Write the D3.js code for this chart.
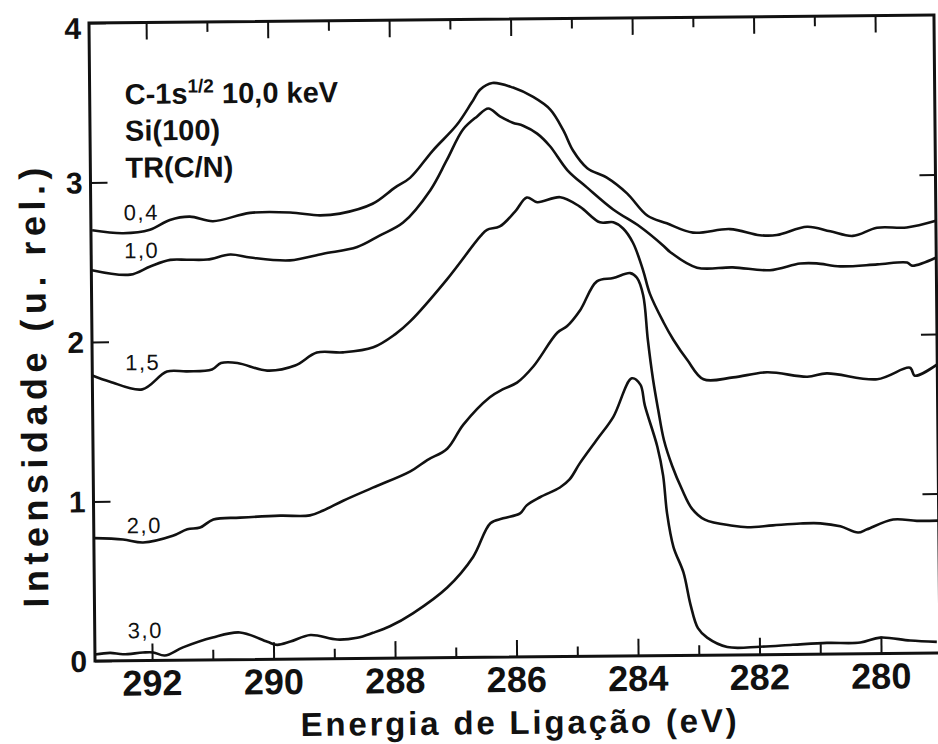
<!DOCTYPE html>
<html>
<head>
<meta charset="utf-8">
<script src="https://cdn.jsdelivr.net/npm/d3@7"></script>
<style>
    body { margin: 0; background: #fff; }
    svg { display: block; }
    text { font-family: "Liberation Sans", Arial, Helvetica, sans-serif; fill: #111; }
</style>
</head>
<body>
<div id="xps-graph-div"></div>
<script>
// energias de ligacao (eV) e intensidades lidas para cada razao TR(C/N)
var energia04 = [292.92, 292.41, 291.97, 291.64, 291.31, 290.93, 290.32, 289.66, 289.17, 288.84, 288.30, 287.93, 287.68, 287.30, 286.90, 286.65, 286.51, 286.31, 285.97, 285.64, 285.36, 285.15, 284.99, 284.76, 284.44, 284.11, 283.78, 283.46, 283.03, 282.42, 281.93, 281.65, 281.15, 280.77, 280.40, 280.00, 279.51, 279.03];
var intens04 = [2.70, 2.68, 2.70, 2.76, 2.78, 2.75, 2.80, 2.80, 2.78, 2.79, 2.85, 2.95, 3.01, 3.18, 3.34, 3.48, 3.56, 3.60, 3.57, 3.51, 3.43, 3.30, 3.17, 3.06, 3.00, 2.90, 2.76, 2.71, 2.65, 2.67, 2.63, 2.63, 2.68, 2.65, 2.62, 2.67, 2.67, 2.71];

var energia10 = [292.93, 292.30, 291.97, 291.64, 291.36, 291.03, 290.65, 290.32, 289.67, 289.12, 288.56, 288.19, 287.80, 287.35, 287.07, 286.80, 286.57, 286.38, 286.19, 285.98, 285.81, 285.58, 285.37, 285.09, 284.77, 284.34, 283.90, 283.52, 283.41, 282.97, 282.38, 281.77, 281.27, 281.00, 280.61, 280.00, 279.51, 279.43, 279.03];
var intens10 = [2.45, 2.42, 2.47, 2.51, 2.51, 2.51, 2.54, 2.52, 2.50, 2.54, 2.58, 2.65, 2.73, 2.93, 3.12, 3.31, 3.39, 3.44, 3.39, 3.35, 3.33, 3.28, 3.20, 3.05, 2.94, 2.80, 2.69, 2.57, 2.53, 2.43, 2.43, 2.41, 2.45, 2.45, 2.43, 2.44, 2.45, 2.43, 2.48];

var energia15 = [292.94, 292.65, 292.12, 291.71, 291.38, 290.97, 290.82, 290.55, 290.06, 289.60, 289.24, 288.81, 288.31, 287.95, 287.70, 287.09, 286.53, 286.42, 286.21, 285.96, 285.76, 285.59, 285.21, 284.89, 284.56, 284.34, 284.18, 284.02, 283.86, 283.75, 283.53, 283.37, 283.14, 282.88, 282.39, 281.83, 281.17, 280.85, 280.02, 279.48, 279.40, 279.03];
var intens15 = [1.79, 1.75, 1.70, 1.81, 1.81, 1.82, 1.86, 1.86, 1.81, 1.84, 1.92, 1.92, 1.95, 2.03, 2.11, 2.37, 2.64, 2.68, 2.70, 2.79, 2.88, 2.85, 2.88, 2.82, 2.72, 2.72, 2.68, 2.59, 2.42, 2.27, 2.09, 1.98, 1.85, 1.73, 1.74, 1.77, 1.74, 1.76, 1.72, 1.79, 1.74, 1.81];

var energia20 = [292.94, 292.46, 292.13, 291.64, 291.40, 291.19, 290.97, 290.53, 289.87, 289.38, 289.16, 288.83, 288.34, 287.72, 287.44, 287.11, 286.84, 286.40, 286.18, 285.95, 285.68, 285.28, 285.12, 284.90, 284.62, 284.35, 284.07, 283.96, 283.86, 283.79, 283.71, 283.63, 283.54, 283.41, 283.25, 283.09, 282.88, 282.42, 282.18, 281.76, 281.31, 280.98, 280.65, 280.36, 280.21, 279.78, 279.39, 279.03];
var intens20 = [0.77, 0.76, 0.74, 0.78, 0.82, 0.83, 0.88, 0.89, 0.90, 0.90, 0.93, 0.99, 1.07, 1.17, 1.24, 1.31, 1.46, 1.63, 1.68, 1.72, 1.82, 2.03, 2.07, 2.17, 2.35, 2.37, 2.40, 2.37, 2.26, 1.98, 1.73, 1.54, 1.35, 1.19, 1.04, 0.92, 0.85, 0.81, 0.80, 0.81, 0.82, 0.82, 0.80, 0.76, 0.78, 0.84, 0.83, 0.83];

var energia30 = [292.94, 292.69, 292.48, 292.15, 291.98, 291.79, 291.49, 291.00, 290.55, 290.10, 289.94, 289.72, 289.39, 288.95, 288.62, 288.36, 288.08, 287.70, 287.13, 286.70, 286.41, 286.20, 285.92, 285.81, 285.59, 285.26, 285.10, 284.93, 284.64, 284.37, 284.06, 283.92, 283.85, 283.65, 283.56, 283.50, 283.40, 283.24, 283.13, 283.01, 282.86, 282.53, 281.99, 281.45, 280.89, 280.34, 280.01, 279.52, 279.08];
var intens30 = [0.04, 0.05, 0.04, 0.05, 0.05, 0.03, 0.08, 0.14, 0.17, 0.11, 0.09, 0.11, 0.15, 0.12, 0.13, 0.16, 0.20, 0.28, 0.44, 0.63, 0.84, 0.87, 0.90, 0.95, 1.00, 1.06, 1.11, 1.21, 1.36, 1.50, 1.74, 1.70, 1.57, 1.31, 1.13, 0.89, 0.68, 0.52, 0.32, 0.17, 0.11, 0.05, 0.05, 0.06, 0.07, 0.07, 0.10, 0.08, 0.07];

var razoes = ["0,4", "1,0", "1,5", "2,0", "3,0"];
var xTicksMaiores = [292, 290, 288, 286, 284, 282, 280];
var xTicksMenores = [291, 289, 287, 285, 283, 281];
var yTicks = [0, 1, 2, 3, 4];
var yTicksDireita = [1, 2, 3];
var anotacoes = ["Si(100)", "TR(C/N)"];

var w = 938, h = 744;
// plot frame (window.top is reserved, so prefixed names)
var fLeft = 92, fRight = 937, fTop = 19, fBottom = 657;

var svg = d3.select("#xps-graph-div")
    .append("svg")
    .attr("width", w)
    .attr("height", h);

// the scanned figure is slightly tilted
var g = svg.append("g")
    .attr("transform", "rotate(-0.54, 514, 340)");

var x = d3.scaleLinear().domain([292.94, 279.03]).range([fLeft, fRight]);
var y = d3.scaleLinear().domain([0, 4]).range([fBottom, fTop]);

var series = [
    { label: razoes[0], e: energia04, v: intens04, ly: 216.5 },
    { label: razoes[1], e: energia10, v: intens10, ly: 254.5 },
    { label: razoes[2], e: energia15, v: intens15, ly: 366.5 },
    { label: razoes[3], e: energia20, v: intens20, ly: 529.5 },
    { label: razoes[4], e: energia30, v: intens30, ly: 634.5 }
];

var line = d3.line()
    .x(function (d) { return x(d[0]); })
    .y(function (d) { return y(d[1]); })
    .curve(d3.curveCatmullRom.alpha(0.5));

g.selectAll("path.curva")
    .data(series)
    .enter()
    .append("path")
    .attr("class", "curva")
    .attr("d", function (s) {
        return line(d3.zip(s.e, s.v));
    })
    .attr("fill", "none")
    .attr("stroke", "#111")
    .attr("stroke-width", 2.6)
    .attr("stroke-linejoin", "round");

// inward ticks on all four sides
var axB = d3.axisBottom(x).tickValues(xTicksMaiores).tickSize(-17).tickFormat("");
var axBm = d3.axisBottom(x).tickValues(xTicksMenores).tickSize(-10).tickFormat("");
var axT = d3.axisTop(x).tickValues(xTicksMaiores).tickSize(-17).tickFormat("");
var axTm = d3.axisTop(x).tickValues(xTicksMenores).tickSize(-10).tickFormat("");
var axL = d3.axisLeft(y).tickValues(yTicks).tickSize(-17).tickFormat("");
var axR = d3.axisRight(y).tickValues(yTicksDireita).tickSize(-16).tickFormat("");

[[axB, "translate(0," + fBottom + ")"], [axBm, "translate(0," + fBottom + ")"],
 [axT, "translate(0," + fTop + ")"], [axTm, "translate(0," + fTop + ")"],
 [axL, "translate(" + fLeft + ",0)"], [axR, "translate(" + fRight + ",0)"]].forEach(function (a) {
    var ag = g.append("g").attr("transform", a[1]).call(a[0]);
    ag.select(".domain").remove();
    ag.selectAll("line").attr("stroke", "#111").attr("stroke-width", 2);
});

g.append("rect")
    .attr("x", fLeft)
    .attr("y", fTop)
    .attr("width", fRight - fLeft)
    .attr("height", fBottom - fTop)
    .attr("fill", "none")
    .attr("stroke", "#111")
    .attr("stroke-width", 3);

// tick labels
g.selectAll("text.ylab")
    .data(yTicks)
    .enter()
    .append("text")
    .attr("class", "ylab")
    .attr("x", 84)
    .attr("y", function (d) { return d === 4 ? y(d) + 5 : y(d); })
    .attr("dy", "0.36em")
    .attr("text-anchor", "end")
    .attr("font-size", 30)
    .attr("font-weight", "bold")
    .text(function (d) { return d; });

g.selectAll("text.xlab")
    .data(xTicksMaiores)
    .enter()
    .append("text")
    .attr("class", "xlab")
    .attr("x", function (d) { return x(d); })
    .attr("y", 692)
    .attr("text-anchor", "middle")
    .attr("font-size", 36)
    .attr("font-weight", "bold")
    .text(function (d) { return d; });

// axis titles
g.append("text")
    .attr("x", 515)
    .attr("y", 734)
    .attr("text-anchor", "middle")
    .attr("font-size", 33)
    .attr("font-weight", "bold")
    .attr("textLength", 436)
    .attr("lengthAdjust", "spacing")
    .text("Energia de Ligação (eV)");

g.append("text")
    .attr("transform", "translate(46,383) rotate(-90)")
    .attr("text-anchor", "middle")
    .attr("font-size", 36)
    .attr("font-weight", "bold")
    .attr("textLength", 440)
    .attr("lengthAdjust", "spacing")
    .text("Intensidade (u. rel.)");

// annotation block
var anot = g.append("text")
    .attr("x", 127)
    .attr("y", 100.5)
    .attr("font-size", 29)
    .attr("font-weight", "bold");
anot.append("tspan").text("C-1s");
anot.append("tspan").attr("dy", -11).attr("font-size", 19).text("1/2");
anot.append("tspan").attr("dy", 11).text(" 10,0 keV");

g.selectAll("text.anot")
    .data(anotacoes)
    .enter()
    .append("text")
    .attr("class", "anot")
    .attr("x", 127)
    .attr("y", function (d, i) { return 137 + i * 37; })
    .attr("font-size", 29)
    .attr("font-weight", "bold")
    .text(function (d) { return d; });

// curve labels
g.selectAll("text.serie")
    .data(series)
    .enter()
    .append("text")
    .attr("class", "serie")
    .attr("x", 125)
    .attr("y", function (s) { return s.ly; })
    .attr("font-size", 22)
    .attr("letter-spacing", 1.5)
    .text(function (s) { return s.label; });
</script>
</body>
</html>
